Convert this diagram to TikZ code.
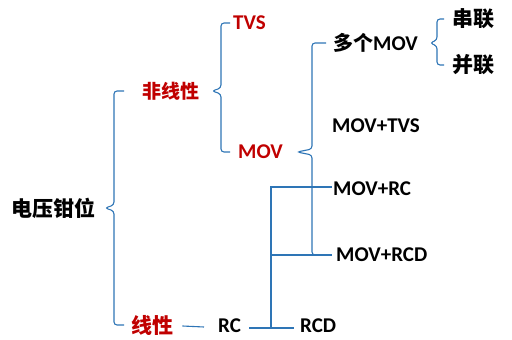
\documentclass[tikz,border=0pt]{standalone}
\usepackage{fontspec}
\setmainfont{Carlito}
\newfontfamily\cjk{Noto Sans CJK SC}
\usetikzlibrary{calc}
\definecolor{lineblue}{RGB}{46,117,182}
\definecolor{darkred}{RGB}{192,0,0}
\tikzset{
  lbl/.style={anchor=west,inner sep=0pt,font=\bfseries\fontsize{21}{23}\selectfont},
  redlbl/.style={lbl,text=darkred},
  br/.style={draw=lineblue,line width=1.1pt,rounded corners=3pt},
  ln/.style={draw=lineblue,line width=1.1pt}
}
% #1 vertical x coordinate, #2 parent, #3 top child, #4 bottom child, #5 hook, #6 tip
\newcommand\mybrace[6]{%
  \draw[br] ($(#1 |- #3.west)+(#5,0)$) -- (#1 |- #3.west)
    -- ($(#1 |- #2.east)+(0,3)$) -- ($(#1 |- #2.east)+(-#6,0)$)
    -- ($(#1 |- #2.east)+(0,-3)$) -- (#1 |- #4.west)
    -- ($(#1 |- #4.west)+(#5,0)$);}
\begin{document}
\begin{tikzpicture}[x=1pt,y=1pt]
\useasboundingbox (0,0) rectangle (512,340);
% nodes
\node[lbl,font=\cjk\bfseries\fontsize{21}{23}\selectfont] (root) at (11,132) {电压钳位};
\node[redlbl,font=\cjk\bfseries\fontsize{19}{21}\selectfont] (fx) at (142,249) {非线性};
\node[redlbl,font=\cjk\bfseries\fontsize{21}{23}\selectfont] (lin) at (131,15) {线性};
\node[redlbl] (tvs) at (233,317) {TVS};
\node[redlbl] (mov) at (238,188) {MOV};
\node[lbl] (duo) at (333,297) {{\cjk\fontsize{20}{22}\selectfont 多个}MOV};
\node[lbl,font=\cjk\bfseries\fontsize{21}{23}\selectfont] (chuan) at (452,321) {串联};
\node[lbl,font=\cjk\bfseries\fontsize{21}{23}\selectfont] (bing) at (452,275) {并联};
\node[lbl] (mtvs) at (332,214) {MOV+TVS};
\node[lbl] (mrc) at (333,151) {MOV+RC};
\node[lbl] (mrcd) at (336,85) {MOV+RCD};
\node[lbl] (rc) at (218,14) {RC};
\node[lbl] (rcd) at (300,14) {RCD};
% vertical positions
\coordinate (v1) at (114,0);
\coordinate (v2) at (221,0);
\coordinate (v3) at (312,0);
\coordinate (v4) at (437,0);
\coordinate (vr) at (271,0);
% braces
\mybrace{v1}{root}{fx}{lin}{10}{9}
\mybrace{v2}{fx}{tvs}{mov}{9}{9}
\mybrace{v3}{mov}{duo}{mrcd}{14}{15}
\mybrace{v4}{duo}{chuan}{bing}{7}{7}
% RC branch
\draw[ln] ($(lin.east)+(9,-1)$) -- ($(rc.west)+(-14,-1)$);
\draw[ln] ($(rc.east)+(8,-2)$) -- ($(rcd.west)+(-6,-2)$);
\draw[ln] ($(vr |- rcd.west)+(0,-2)$) -- ($(vr |- mrc.west)+(0,2)$) -- ($(mrc.west)+(-1,2)$);
\draw[ln] (vr |- mrcd.west) -- ($(mrcd.west)+(-4,0)$);
\end{tikzpicture}
\end{document}
